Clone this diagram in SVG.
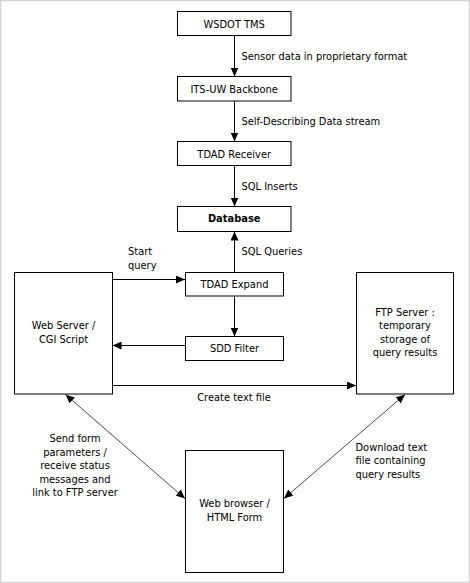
<svg xmlns="http://www.w3.org/2000/svg" width="470" height="583" viewBox="0 0 470 583">
<style>
.box{fill:#fff;stroke:#000;stroke-width:1}
.t{font-family:"DejaVu Sans","Liberation Sans",sans-serif;font-size:9.9px;fill:#000}
.c{text-anchor:middle}
.b{font-weight:bold}
.ln{stroke:#000;stroke-width:1;fill:none}
.dg{stroke:#222;stroke-width:0.8;fill:none}
</style>
<defs>
<marker id="ah" markerUnits="userSpaceOnUse" markerWidth="9" markerHeight="8" refX="9" refY="4" orient="auto-start-reverse">
<path d="M0,0 L9,4 L0,8 z" fill="#000"/>
</marker>
</defs>
<rect x="0.5" y="0.5" width="469" height="582" fill="#fff" stroke="#d4d4d4" stroke-width="1.5"/>
<g id="connectors">
<line class="ln" x1="234.5" y1="35.5" x2="234.5" y2="76.5" marker-end="url(#ah)"/>
<line class="ln" x1="234.5" y1="101" x2="234.5" y2="141.5" marker-end="url(#ah)"/>
<line class="ln" x1="234.5" y1="165.5" x2="234.5" y2="206.5" marker-end="url(#ah)"/>
<line class="ln" x1="234.5" y1="272" x2="234.5" y2="231.5" marker-end="url(#ah)"/>
<line class="ln" x1="112.5" y1="279.5" x2="185" y2="279.5" marker-end="url(#ah)"/>
<line class="ln" x1="234.5" y1="296" x2="234.5" y2="336.5" marker-end="url(#ah)"/>
<line class="ln" x1="185" y1="345.5" x2="112.5" y2="345.5" marker-end="url(#ah)"/>
<line class="ln" x1="112.5" y1="385.5" x2="356" y2="385.5" marker-end="url(#ah)"/>
<line class="dg" x1="65.5" y1="394.5" x2="185" y2="498.5" marker-start="url(#ah)" marker-end="url(#ah)"/>
<line class="dg" x1="405" y1="394.5" x2="284" y2="498.5" marker-start="url(#ah)" marker-end="url(#ah)"/>
<text class="t" x="241.5" y="59.5">Sensor data in proprietary format</text>
<text class="t" x="241.5" y="125">Self-Describing Data stream</text>
<text class="t" x="241.5" y="189.5">SQL Inserts</text>
<text class="t" x="241.5" y="255">SQL Queries</text>
<text class="t" x="128" y="255">Start</text>
<text class="t" x="128" y="268.5">query</text>
<text class="t c" x="234" y="401">Create text file</text>
<text class="t c" x="75" y="442">Send form</text>
<text class="t c" x="75" y="455.5">parameters /</text>
<text class="t c" x="75" y="469">receive status</text>
<text class="t c" x="75" y="482.5">messages and</text>
<text class="t c" x="75" y="496">link to FTP server</text>
<text class="t" x="355.5" y="450.5">Download text</text>
<text class="t" x="355.5" y="464">file containing</text>
<text class="t" x="355.5" y="477.5">query results</text>
</g>
<g id="wsdot"><rect class="box" x="177.5" y="11.5" width="113.5" height="24"/><text class="t c" x="234.2" y="27.5">WSDOT TMS</text></g>
<g id="its"><rect class="box" x="177.5" y="76.5" width="113.5" height="24.5"/><text class="t c" x="234.2" y="92.5">ITS-UW Backbone</text></g>
<g id="receiver"><rect class="box" x="177.5" y="141.5" width="113.5" height="24"/><text class="t c" x="234.2" y="157.5">TDAD Receiver</text></g>
<g id="database"><rect class="box" x="177.5" y="206.5" width="113.5" height="25"/><text class="t c b" x="234.2" y="221.5">Database</text></g>
<g id="expand"><rect class="box" x="185.5" y="272.5" width="98" height="23.5"/><text class="t c" x="234.5" y="287.5">TDAD Expand</text></g>
<g id="filter"><rect class="box" x="185.5" y="336.5" width="98" height="24"/><text class="t c" x="234.5" y="352">SDD Filter</text></g>
<g id="webserver"><rect class="box" x="14.5" y="272.5" width="98" height="121.5"/><text class="t c" x="63.5" y="329">Web Server /</text><text class="t c" x="63.5" y="342.5">CGI Script</text></g>
<g id="ftp"><rect class="box" x="356.5" y="272.5" width="97" height="121.5"/><text class="t c" x="405" y="315.5">FTP Server :</text><text class="t c" x="405" y="329">temporary</text><text class="t c" x="405" y="342.5">storage of</text><text class="t c" x="405" y="356">query results</text></g>
<g id="browser"><rect class="box" x="185.5" y="450.5" width="98" height="122"/><text class="t c" x="234.5" y="507">Web browser /</text><text class="t c" x="234.5" y="520.5">HTML Form</text></g>
</svg>
